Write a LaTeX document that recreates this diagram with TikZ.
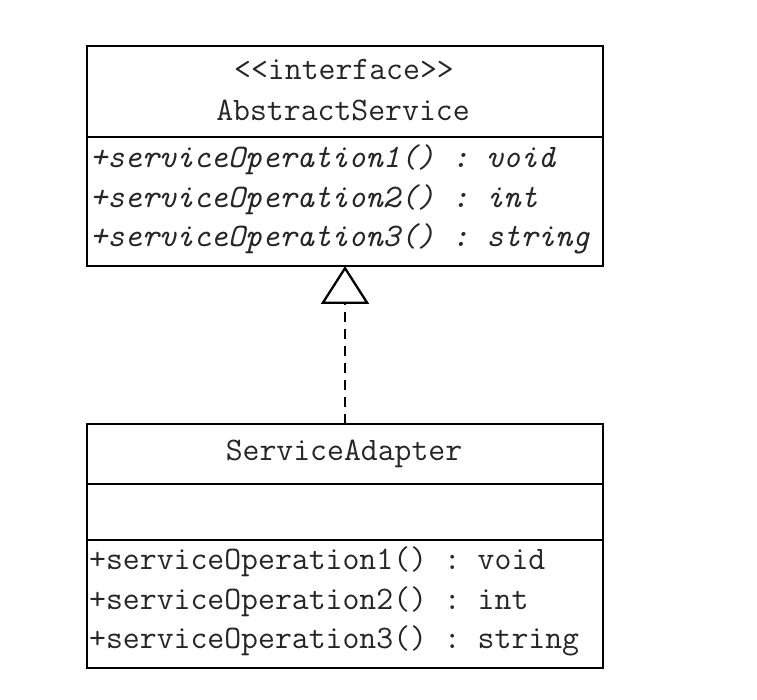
\documentclass[tikz,border=0pt]{standalone}
\usepackage{fontspec}
\setmonofont{Latin Modern Mono}
\usetikzlibrary{arrows.meta}
\begin{document}
\begin{tikzpicture}[x=1pt,y=-1pt,
  umlpart/.style={draw=black, line width=2.5pt, minimum width=516pt, inner sep=0pt, outer sep=0pt, anchor=north west},
  umltext/.style={font=\ttfamily\fontsize{32.8}{40}\selectfont, text=black!85, inner sep=0pt},
  optext/.style={umltext, anchor=mid west},
  realize/.style={line width=2.3pt, dash pattern=on 10pt off 7pt, -{Triangle[open, length=38pt, width=48pt, line width=2.3pt]}}]
\useasboundingbox (0,0) rectangle (757,700);
\fill[white] (0,0) rectangle (757,700);

% interface AbstractService
\node[umlpart, minimum height=91pt] (absHead) at (87,46) {};
\node[umlpart, minimum height=129pt] (absOps) at (87,137) {};
\node[umltext] (absStereo) at (344,69) {<{}<interface>{}>};
\node[umltext] (absName) at (343,110) {AbstractService};
\node[optext] (absOp1) at (90,165) {\itshape +serviceOperation1() : void};
\node[optext] (absOp2) at (90,205) {\itshape +serviceOperation2() : int};
\node[optext] (absOp3) at (90,244) {\itshape +serviceOperation3() : string};

% class ServiceAdapter
\node[umlpart, minimum height=60pt] (adpHead) at (87,424) {};
\node[umlpart, minimum height=56pt] (adpAttrs) at (87,484) {};
\node[umlpart, minimum height=128pt] (adpOps) at (87,540) {};
\node[umltext] (adpName) at (344,454) {ServiceAdapter};
\node[optext] (adpOp1) at (89,567) {+serviceOperation1() : void};
\node[optext] (adpOp2) at (89,607) {+serviceOperation2() : int};
\node[optext] (adpOp3) at (89,646) {+serviceOperation3() : string};

% realization
\draw[realize] (adpHead.north) -- (absOps.south);
\end{tikzpicture}
\end{document}
